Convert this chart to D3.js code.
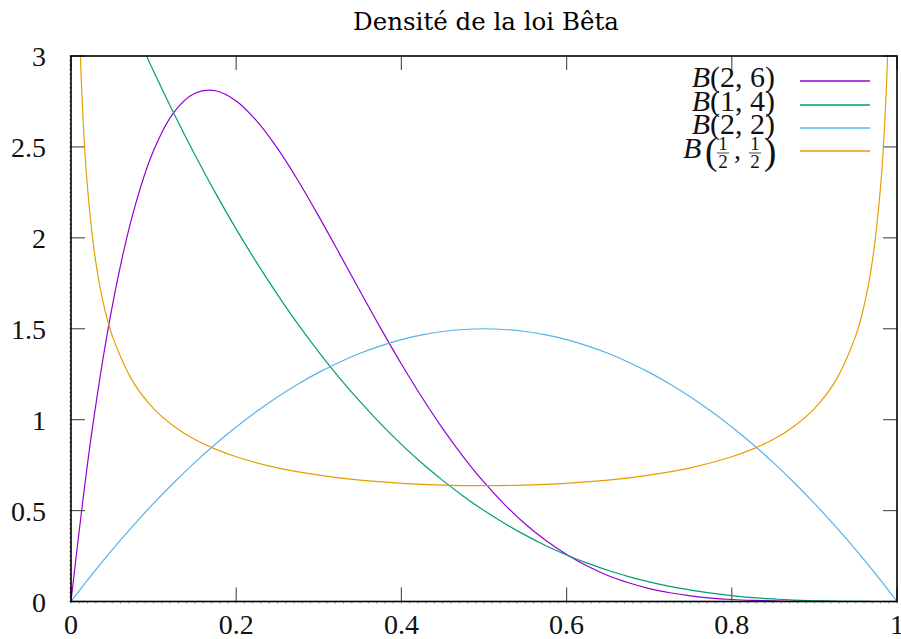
<!DOCTYPE html>
<html><head><meta charset="utf-8">
<script src="https://cdn.jsdelivr.net/npm/d3@7/dist/d3.min.js"></script>
<style>body{margin:0;background:#fff}svg{display:block}</style>
</head><body>
<svg id="c" width="901" height="639"></svg>
<script>
// ---- data ----
const title = "Densité de la loi Bêta";
const xTicks = [0, 0.2, 0.4, 0.6, 0.8, 1];
const xTickLabels = ["0", "0.2", "0.4", "0.6", "0.8", "1"];
const yTicks = [0, 0.5, 1, 1.5, 2, 2.5, 3];
const yTickLabels = ["0", "0.5", "1", "1.5", "2", "2.5", "3"];

const xs = [0,0.025,0.05,0.075,0.1,0.125,0.15,0.175,0.2,0.225,0.25,0.275,0.3,0.325,0.35,0.375,0.4,0.425,0.45,0.475,0.5,
            0.525,0.55,0.575,0.6,0.625,0.65,0.675,0.7,0.725,0.75,0.775,0.8,0.825,0.85,0.875,0.9,0.925,0.95,0.975,1];
const beta26 = [0,0.925,1.625,2.133,2.480,2.693,2.795,2.809,2.753,2.642,2.492,2.314,2.118,1.913,1.706,1.502,1.306,1.122,0.951,0.796,0.656,
                0.533,0.426,0.335,0.258,0.195,0.143,0.103,0.071,0.048,0.031,0.019,0.011,0.006,0.003,0.001,0.0004,0.0001,0,0,0];
const beta14 = [4,3.707,3.430,3.166,2.916,2.680,2.457,2.246,2.048,1.862,1.688,1.524,1.372,1.230,1.099,0.977,0.864,0.760,0.666,0.579,0.5,
                0.429,0.365,0.307,0.256,0.211,0.172,0.137,0.108,0.083,0.063,0.046,0.032,0.021,0.014,0.008,0.004,0.002,0.0005,0.0001,0];
const beta22 = [0,0.146,0.285,0.416,0.54,0.656,0.765,0.866,0.96,1.046,1.125,1.196,1.26,1.316,1.365,1.406,1.44,1.466,1.485,1.496,1.5,
                1.496,1.485,1.466,1.44,1.406,1.365,1.316,1.26,1.196,1.125,1.046,0.96,0.866,0.765,0.656,0.54,0.416,0.285,0.146,0];
const xsHalf = [0.005,0.01,0.015,0.02,0.03,0.04,0.05,0.075,0.1,0.125,0.15,0.175,0.2,0.25,0.3,0.35,0.4,0.45,0.5,
                0.55,0.6,0.65,0.7,0.75,0.8,0.825,0.85,0.875,0.9,0.925,0.95,0.96,0.97,0.98,0.985,0.99,0.995];
const betaHalf = [4.513,3.199,2.619,2.274,1.866,1.624,1.461,1.209,1.061,0.963,0.891,0.838,0.796,0.735,0.695,0.667,0.650,0.640,0.637,
                  0.640,0.650,0.667,0.695,0.735,0.796,0.838,0.891,0.963,1.061,1.209,1.461,1.624,1.866,2.274,2.619,3.199,4.513];

const seriesNames = ["B(2, 6)", "B(1, 4)", "B(2, 2)", "B(½, ½)"];
const seriesColors = ["#9400d3", "#009e73", "#56b4e9", "#e69f00"];

// ---- layout ----
const L = 71, R = 897, T = 56, B = 601.5;
const svg = d3.select("#c");
const x = d3.scaleLinear().domain([0, 1]).range([L, R]);
const y = d3.scaleLinear().domain([0, 3]).range([B, T]);

svg.append("defs").append("clipPath").attr("id", "clip")
  .append("rect").attr("x", L).attr("y", T).attr("width", R - L).attr("height", B - T);

// title
svg.append("text").attr("x", 486).attr("y", 30).attr("text-anchor", "middle")
  .attr("font-family", "DejaVu Serif").attr("font-size", 24.5).attr("fill", "#000").text(title);

// minor ticks (bottom / left)
const minX = d3.range(0, 1.0001, 0.01);
svg.append("g").selectAll("line").data(minX).join("line")
  .attr("x1", d => x(d)).attr("x2", d => x(d)).attr("y1", B).attr("y2", B + 2)
  .attr("stroke", "#999").attr("stroke-width", 1);
const minY = d3.range(0, 3.0001, 0.025);
svg.append("g").selectAll("line").data(minY).join("line")
  .attr("y1", d => y(d)).attr("y2", d => y(d)).attr("x1", L - 2).attr("x2", L)
  .attr("stroke", "#999").attr("stroke-width", 1);

// major ticks, mirrored
const tickCol = "#555", tickLen = 14;
const gt = svg.append("g");
xTicks.forEach(v => {
  gt.append("line").attr("x1", x(v)).attr("x2", x(v)).attr("y1", B).attr("y2", B - tickLen).attr("stroke", tickCol).attr("stroke-width", 1.2);
  gt.append("line").attr("x1", x(v)).attr("x2", x(v)).attr("y1", T).attr("y2", T + tickLen).attr("stroke", tickCol).attr("stroke-width", 1.2);
});
yTicks.forEach(v => {
  gt.append("line").attr("y1", y(v)).attr("y2", y(v)).attr("x1", L).attr("x2", L + tickLen).attr("stroke", tickCol).attr("stroke-width", 1.2);
  gt.append("line").attr("y1", y(v)).attr("y2", y(v)).attr("x1", R).attr("x2", R - tickLen).attr("stroke", tickCol).attr("stroke-width", 1.2);
});

// tick labels
const lab = svg.append("g").attr("font-family", "Liberation Serif").attr("font-size", 28).attr("fill", "#111");
xTicks.forEach((v, i) => lab.append("text").attr("x", x(v)).attr("y", 634).attr("text-anchor", "middle").text(xTickLabels[i]));
yTicks.forEach((v, i) => lab.append("text").attr("x", 46).attr("y", y(v) + 10).attr("text-anchor", "end").text(yTickLabels[i]));

// curves
const line = d3.line().x(d => x(d[0])).y(d => y(d[1])).curve(d3.curveCatmullRom.alpha(0.5));
const data = [
  d3.zip(xs, beta26),
  d3.zip(xs, beta14),
  d3.zip(xs, beta22),
  d3.zip(xsHalf, betaHalf)
];
const gc = svg.append("g").attr("clip-path", "url(#clip)");
data.forEach((d, i) => {
  gc.append("path").attr("d", line(d)).attr("fill", "none").attr("stroke", seriesColors[i]).attr("stroke-width", 1.2);
});

// frame
svg.append("rect").attr("x", L).attr("y", T).attr("width", R - L).attr("height", B - T)
  .attr("fill", "none").attr("stroke", "#000").attr("stroke-width", 1.6);

// legend
const legY = [81, 105, 128, 151];
const lg = svg.append("g").attr("font-family", "Liberation Serif").attr("fill", "#111");
seriesColors.forEach((c, i) => {
  lg.append("line").attr("x1", 800).attr("x2", 870).attr("y1", legY[i]).attr("y2", legY[i]).attr("stroke", c).attr("stroke-width", 1.5);
});
const simpleLabels = [["2", "6"], ["1", "4"], ["2", "2"]];
simpleLabels.forEach((p, i) => {
  const t = lg.append("text").attr("x", 775).attr("y", legY[i] + 6).attr("text-anchor", "end").attr("font-size", 30);
  t.append("tspan").attr("font-style", "italic").text("B");
  t.append("tspan").text("(" + p[0] + ", " + p[1] + ")");
});
// fraction label B(1/2, 1/2)
const fy = legY[3];
lg.append("text").attr("x", 683).attr("y", fy + 7).attr("font-size", 30).attr("font-style", "italic").text("B");
lg.append("text").attr("x", 705).attr("y", fy + 13).attr("font-size", 37).text("(");
lg.append("text").attr("x", 764).attr("y", fy + 13).attr("font-size", 37).text(")");
lg.append("text").attr("x", 734).attr("y", fy + 8).attr("font-size", 28).text(",");
[723, 755].forEach(cx => {
  lg.append("text").attr("x", cx).attr("y", fy - 1).attr("text-anchor", "middle").attr("font-size", 19).text("1");
  lg.append("line").attr("x1", cx - 6).attr("x2", cx + 6).attr("y1", fy + 2).attr("y2", fy + 2).attr("stroke", "#111").attr("stroke-width", 0.8);
  lg.append("text").attr("x", cx).attr("y", fy + 17).attr("text-anchor", "middle").attr("font-size", 19).text("2");
});
</script>
</body></html>
